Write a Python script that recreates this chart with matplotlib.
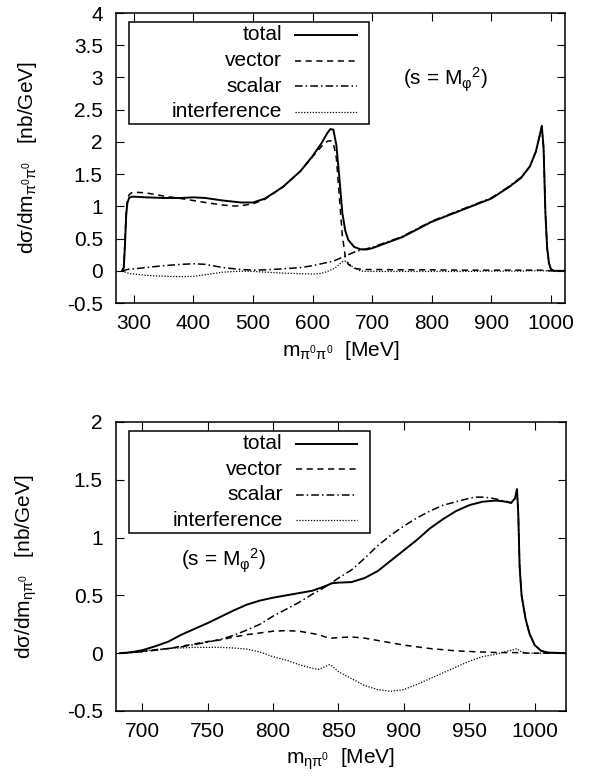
import matplotlib
matplotlib.use("Agg")
import matplotlib.pyplot as plt
from matplotlib.ticker import FormatStrFormatter, MultipleLocator

plt.rcParams['font.family'] = ['Liberation Sans', 'DejaVu Sans']
plt.rcParams['mathtext.fontset'] = 'custom'
plt.rcParams['mathtext.rm'] = 'Liberation Sans'
plt.rcParams['mathtext.it'] = 'Liberation Sans:italic'
plt.rcParams['axes.unicode_minus'] = False
plt.rcParams['font.size'] = 15

# ---- top panel: pi0 pi0 ----
m_pp = [280, 283, 285, 287, 289, 292, 296, 300, 320, 350, 380, 400, 420, 450,
        470, 480, 500, 520, 550, 580, 600, 615, 625, 630, 635, 640, 645, 650,
        655, 660, 670, 680, 690, 700, 750, 800, 850, 900, 930, 950, 965, 975,
        982, 985, 988, 991, 994, 997, 1000, 1005, 1024]
tot_pp = [0, 0.05, 0.40, 0.85, 1.05, 1.13, 1.15, 1.15, 1.14, 1.13, 1.13, 1.14,
          1.13, 1.09, 1.07, 1.06, 1.06, 1.12, 1.30, 1.55, 1.78, 1.98, 2.14,
          2.20, 2.19, 1.95, 1.45, 0.90, 0.62, 0.48, 0.37, 0.335, 0.33, 0.35,
          0.52, 0.76, 0.94, 1.12, 1.30, 1.44, 1.62, 1.85, 2.12, 2.25, 1.90,
          0.90, 0.35, 0.12, 0.03, 0.0, 0.0]
vec_pp = [0, 0.05, 0.45, 0.90, 1.10, 1.18, 1.21, 1.22, 1.21, 1.16, 1.12, 1.09,
          1.06, 1.02, 1.005, 1.01, 1.04, 1.11, 1.30, 1.55, 1.77, 1.93, 2.01,
          2.02, 1.98, 1.75, 1.15, 0.55, 0.22, 0.10, 0.04, 0.025, 0.02, 0.02,
          0.015, 0.015, 0.01, 0.01, 0.01, 0.01, 0.01, 0.01, 0.01, 0.01, 0.01,
          0.01, 0.005, 0.0, 0.0, 0.0, 0.0]
sca_pp = [0, 0.005, 0.01, 0.015, 0.02, 0.025, 0.03, 0.03, 0.05, 0.08, 0.10,
          0.11, 0.10, 0.05, 0.03, 0.02, 0.01, 0.015, 0.03, 0.05, 0.08, 0.11,
          0.13, 0.14, 0.15, 0.17, 0.19, 0.21, 0.23, 0.25, 0.29, 0.32, 0.34,
          0.365, 0.53, 0.77, 0.95, 1.13, 1.31, 1.45, 1.62, 1.85, 2.12, 2.24,
          1.90, 0.90, 0.35, 0.12, 0.03, 0.0, 0.0]
int_pp = [0, -0.01, -0.02, -0.025, -0.03, -0.04, -0.045, -0.05, -0.07, -0.085,
          -0.09, -0.085, -0.06, -0.02, -0.01, -0.005, -0.01, -0.02, -0.035,
          -0.045, -0.05, -0.04, -0.01, 0.01, 0.03, 0.06, 0.10, 0.14, 0.15,
          0.12, 0.04, 0.0, -0.01, -0.01, -0.01, -0.01, -0.01, -0.005, -0.005,
          -0.005, 0.0, 0.0, 0.0, 0.0, 0.0, 0.0, 0.0, 0.0, 0.0, 0.0, 0.0]

# ---- bottom panel: eta pi0 ----
m_ep = [683, 690, 700, 710, 720, 730, 740, 750, 760, 770, 780, 790, 800, 810,
        820, 830, 835, 840, 843, 845, 850, 860, 870, 880, 890, 900, 910, 920,
        930, 940, 950, 955, 960, 965, 970, 975, 978, 982, 985, 986.5, 987.5,
        988.5, 990, 993, 996, 1000, 1005, 1010, 1024]
tot_ep = [0, 0.005, 0.025, 0.06, 0.10, 0.16, 0.21, 0.26, 0.315, 0.37, 0.42,
          0.455, 0.48, 0.50, 0.52, 0.54, 0.56, 0.58, 0.595, 0.605, 0.61, 0.615,
          0.65, 0.71, 0.80, 0.89, 0.98, 1.08, 1.16, 1.23, 1.28, 1.295, 1.31,
          1.315, 1.32, 1.315, 1.31, 1.30, 1.34, 1.42, 1.20, 0.75, 0.50, 0.30,
          0.17, 0.07, 0.02, 0.005, 0.0]
vec_ep = [0, 0.005, 0.015, 0.03, 0.04, 0.06, 0.08, 0.10, 0.115, 0.14, 0.16,
          0.175, 0.19, 0.195, 0.19, 0.17, 0.16, 0.14, 0.13, 0.13, 0.135, 0.14,
          0.13, 0.11, 0.09, 0.07, 0.055, 0.04, 0.03, 0.02, 0.015, 0.012, 0.01,
          0.008, 0.006, 0.005, 0.005, 0.005, 0.005, 0.005, 0.004, 0.003,
          0.002, 0.001, 0.0, 0.0, 0.0, 0.0, 0.0]
sca_ep = [0, 0.004, 0.012, 0.025, 0.04, 0.055, 0.075, 0.095, 0.12, 0.155, 0.20,
          0.25, 0.32, 0.38, 0.44, 0.51, 0.54, 0.575, 0.595, 0.61, 0.65, 0.72,
          0.82, 0.93, 1.02, 1.10, 1.17, 1.23, 1.28, 1.31, 1.34, 1.35, 1.35,
          1.345, 1.335, 1.32, 1.315, 1.30, 1.33, 1.40, 1.20, 0.75, 0.50, 0.30,
          0.17, 0.07, 0.02, 0.005, 0.0]
int_ep = [0, 0.01, 0.02, 0.03, 0.04, 0.045, 0.05, 0.05, 0.05, 0.045, 0.035,
          0.01, -0.03, -0.06, -0.10, -0.13, -0.14, -0.115, -0.10, -0.11, -0.16,
          -0.22, -0.28, -0.315, -0.33, -0.315, -0.27, -0.22, -0.17, -0.12,
          -0.07, -0.05, -0.03, -0.02, -0.01, 0.005, 0.015, 0.025, 0.035, 0.04,
          0.03, 0.02, 0.01, 0.005, 0.0, 0.0, 0.0, 0.0, 0.0]

labels = ['total', 'vector', 'scalar', 'interference']
styles = [dict(color='black', lw=1.4, ls='-'),
          dict(color='black', lw=1.1, ls=(0, (4, 3))),
          dict(color='black', lw=1.1, ls=(0, (5, 2, 1, 2))),
          dict(color='black', lw=0.9, ls=(0, (1, 1.3)))]

fig = plt.figure(figsize=(5.99, 7.8), dpi=100)
ax1 = fig.add_axes([0.1937, 0.6115, 0.7496, 0.3718])
ax2 = fig.add_axes([0.1937, 0.0885, 0.7513, 0.3705])


def draw_key(ax):
    ax.add_patch(plt.Rectangle((0.029, 0.617), 0.535, 0.352, transform=ax.transAxes,
                               fill=False, lw=1.1, color='black', zorder=5))
    rows = [0.925, 0.836, 0.748, 0.660]
    for lab, st, yy in zip(labels, styles, rows):
        ax.text(0.370, yy, lab, transform=ax.transAxes, ha='right', va='center',
                fontsize=15)
        ax.plot([0.399, 0.536], [yy, yy], transform=ax.transAxes, **st)


def style_axes(ax, xlim, ylim, xstep, ystep):
    ax.set_xlim(*xlim)
    ax.set_ylim(*ylim)
    ax.xaxis.set_major_locator(MultipleLocator(xstep))
    ax.yaxis.set_major_locator(MultipleLocator(ystep))
    ax.yaxis.set_major_formatter(FormatStrFormatter('%g'))
    ax.xaxis.set_major_formatter(FormatStrFormatter('%g'))
    ax.tick_params(direction='in', top=True, right=True, length=5.5, width=0.8,
                   labelsize=15)
    ax.tick_params(axis='x', pad=7.8)
    ax.tick_params(axis='y', pad=9.5)
    for sp in ax.spines.values():
        sp.set_linewidth(1.1)


for ax, m, series in [(ax1, m_pp, [tot_pp, vec_pp, sca_pp, int_pp]),
                      (ax2, m_ep, [tot_ep, vec_ep, sca_ep, int_ep])]:
    for y, st in zip(series, styles):
        ax.plot(m, y, **st)
    draw_key(ax)

style_axes(ax1, (270, 1024), (-0.5, 4), 100, 0.5)
style_axes(ax2, (680, 1024), (-0.5, 2), 50, 0.5)

ax1.set_ylabel(r'dσ/dm$_{\mathregular{π^0π^0}}$   [nb/GeV]', fontsize=15)
ax1.set_xlabel(r'm$_{\mathregular{π^0π^0}}$  [MeV]', fontsize=15)
ax2.set_ylabel(r'dσ/dm$_{\mathregular{ηπ^0}}$   [nb/GeV]', fontsize=15)
ax2.set_xlabel(r'm$_{\mathregular{ηπ^0}}$  [MeV]', fontsize=15)
for ax in (ax1, ax2):
    ax.yaxis.set_label_coords(-0.171, 0.5)
    ax.xaxis.set_label_coords(0.5, -0.124)

ax1.text(0.735, 0.769, r'(s = M$_{\mathregular{φ}}$$^{\mathregular{2}}$)',
         transform=ax1.transAxes, ha='center', va='center', fontsize=15)
ax2.text(0.24, 0.519, r'(s = M$_{\mathregular{φ}}$$^{\mathregular{2}}$)',
         transform=ax2.transAxes, ha='center', va='center', fontsize=15)

fig.savefig('out.png', dpi=100)
